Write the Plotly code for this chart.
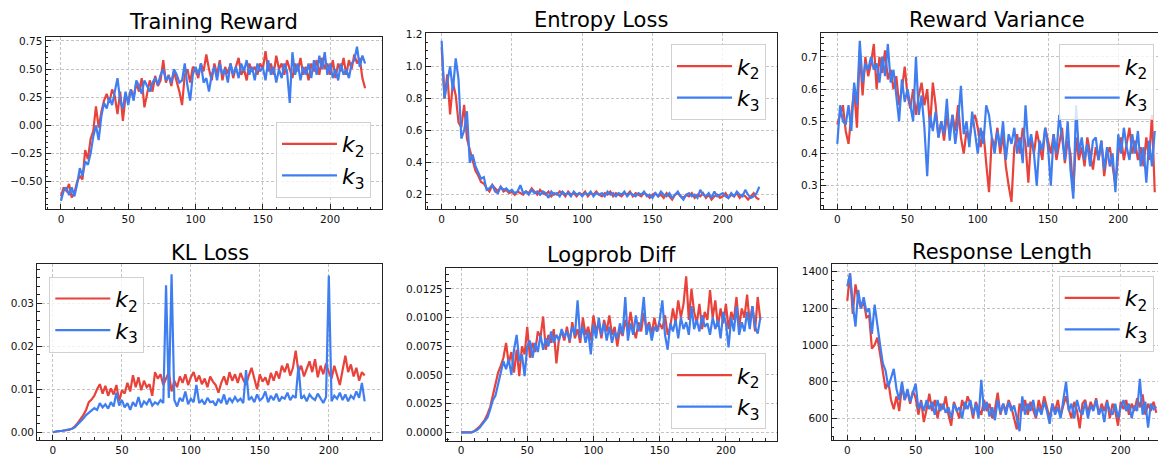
import plotly.graph_objects as go
from plotly.subplots import make_subplots

# ---------------- data (sampled every 2 steps) ----------------
steps = list(range(0, 228, 2))

reward_k2 = [-0.63,-0.55,-0.58,-0.52,-0.64,-0.60,-0.50,-0.45,-0.48,-0.22,-0.30,-0.12,-0.05,0.17,-0.02,0.12,0.22,0.28,0.20,0.32,
             0.26,0.10,0.30,0.04,0.26,0.22,0.32,0.25,0.38,0.30,0.42,0.16,0.28,0.40,0.30,0.44,0.35,0.40,0.58,0.38,
             0.45,0.35,0.48,0.40,0.30,0.18,0.45,0.50,0.38,0.52,0.50,0.42,0.55,0.48,0.63,0.50,0.40,0.55,0.45,0.58,
             0.40,0.52,0.46,0.55,0.42,0.52,0.60,0.45,0.50,0.40,0.55,0.48,0.52,0.45,0.55,0.50,0.66,0.48,0.55,0.45,
             0.62,0.50,0.55,0.45,0.58,0.50,0.42,0.55,0.48,0.60,0.45,0.52,0.40,0.55,0.48,0.58,0.45,0.60,0.50,0.55,
             0.45,0.58,0.42,0.55,0.48,0.60,0.45,0.58,0.50,0.63,0.55,0.60,0.42,0.33]
reward_k3 = [-0.67,-0.58,-0.55,-0.62,-0.55,-0.63,-0.52,-0.38,-0.45,-0.32,-0.35,-0.25,-0.10,0.00,-0.13,0.08,0.20,0.15,0.25,0.18,
             0.30,0.42,0.22,0.15,0.30,0.18,0.32,0.22,0.40,0.35,0.28,0.40,0.35,0.30,0.38,0.42,0.36,0.45,0.50,0.40,
             0.44,0.38,0.50,0.45,0.38,0.40,0.55,0.35,0.22,0.45,0.52,0.45,0.55,0.38,0.42,0.30,0.45,0.52,0.40,0.55,
             0.45,0.50,0.38,0.55,0.45,0.52,0.42,0.55,0.48,0.58,0.45,0.52,0.40,0.55,0.48,0.52,0.40,0.58,0.45,0.52,
             0.38,0.50,0.42,0.55,0.48,0.20,0.65,0.45,0.55,0.40,0.52,0.45,0.55,0.42,0.58,0.45,0.62,0.50,0.65,0.45,
             0.55,0.42,0.50,0.40,0.55,0.45,0.50,0.42,0.55,0.58,0.70,0.52,0.62,0.55]

entropy_k2 = [1.12,0.80,0.95,0.70,0.90,0.82,0.65,0.62,0.76,0.55,0.48,0.42,0.35,0.32,0.28,0.27,0.24,0.22,0.26,0.24,
              0.22,0.25,0.22,0.23,0.21,0.22,0.20,0.22,0.21,0.20,0.22,0.21,0.24,0.22,0.20,0.23,0.21,0.20,0.22,0.19,
              0.21,0.20,0.22,0.21,0.19,0.22,0.20,0.21,0.19,0.21,0.20,0.22,0.19,0.21,0.20,0.22,0.20,0.19,0.21,0.20,
              0.22,0.19,0.21,0.20,0.19,0.21,0.20,0.22,0.19,0.21,0.20,0.19,0.21,0.20,0.18,0.20,0.21,0.19,0.20,0.18,
              0.21,0.19,0.17,0.20,0.21,0.19,0.18,0.20,0.19,0.21,0.18,0.20,0.19,0.21,0.18,0.20,0.17,0.19,0.20,0.18,
              0.19,0.21,0.18,0.20,0.19,0.21,0.18,0.20,0.19,0.17,0.19,0.21,0.18,0.17]
entropy_k3 = [1.16,0.80,0.90,1.00,0.85,1.05,0.92,0.55,0.60,0.72,0.40,0.45,0.38,0.34,0.30,0.31,0.23,0.24,0.26,0.22,
              0.21,0.25,0.23,0.24,0.22,0.23,0.21,0.22,0.26,0.21,0.22,0.20,0.23,0.21,0.22,0.20,0.22,0.21,0.18,0.22,
              0.20,0.21,0.19,0.22,0.20,0.21,0.19,0.22,0.20,0.21,0.19,0.21,0.20,0.22,0.19,0.21,0.20,0.21,0.19,0.22,
              0.20,0.21,0.19,0.21,0.20,0.22,0.19,0.21,0.20,0.19,0.21,0.20,0.22,0.19,0.20,0.18,0.21,0.19,0.22,0.20,
              0.19,0.21,0.18,0.20,0.22,0.19,0.17,0.20,0.21,0.19,0.20,0.18,0.23,0.20,0.19,0.21,0.18,0.22,0.19,0.20,
              0.21,0.19,0.18,0.21,0.19,0.22,0.20,0.19,0.23,0.20,0.18,0.19,0.21,0.25]

variance_k2 = [0.49,0.52,0.55,0.47,0.43,0.52,0.60,0.48,0.72,0.58,0.70,0.64,0.68,0.74,0.60,0.70,0.65,0.72,0.63,0.66,
               0.60,0.64,0.55,0.60,0.67,0.58,0.54,0.60,0.52,0.58,0.62,0.55,0.60,0.48,0.62,0.55,0.45,0.50,0.44,0.52,
               0.46,0.52,0.47,0.55,0.45,0.40,0.47,0.44,0.50,0.52,0.48,0.42,0.47,0.37,0.28,0.45,0.42,0.48,0.40,0.46,
               0.36,0.30,0.25,0.42,0.46,0.40,0.48,0.43,0.31,0.45,0.40,0.47,0.42,0.38,0.48,0.44,0.40,0.46,0.38,0.43,
               0.48,0.37,0.44,0.40,0.28,0.45,0.38,0.42,0.36,0.45,0.40,0.35,0.42,0.38,0.44,0.33,0.40,0.42,0.36,0.30,
               0.40,0.45,0.38,0.43,0.48,0.40,0.44,0.38,0.42,0.36,0.45,0.38,0.52,0.28]
variance_k3 = [0.43,0.55,0.50,0.49,0.55,0.47,0.62,0.55,0.75,0.62,0.68,0.66,0.70,0.66,0.68,0.62,0.70,0.64,0.74,0.62,
               0.66,0.58,0.50,0.63,0.56,0.60,0.55,0.50,0.70,0.52,0.58,0.48,0.33,0.52,0.47,0.53,0.45,0.50,0.46,0.57,
               0.44,0.52,0.43,0.50,0.61,0.46,0.50,0.42,0.53,0.46,0.40,0.48,0.43,0.55,0.52,0.45,0.40,0.47,0.42,0.50,
               0.38,0.46,0.43,0.48,0.40,0.45,0.37,0.55,0.42,0.46,0.40,0.30,0.44,0.41,0.48,0.42,0.30,0.46,0.40,0.52,
               0.45,0.38,0.50,0.35,0.26,0.55,0.40,0.45,0.38,0.43,0.36,0.44,0.45,0.38,0.44,0.35,0.42,0.36,0.40,0.28,
               0.46,0.40,0.48,0.42,0.38,0.46,0.40,0.47,0.36,0.42,0.31,0.44,0.36,0.47]

kl_k2 = [0.0000,0.0002,0.0003,0.0003,0.0004,0.0005,0.0006,0.0009,0.0014,0.0022,0.0030,0.0040,0.0052,0.0070,0.0076,0.0085,0.0100,0.0112,0.0090,0.0108,
         0.0085,0.0102,0.0088,0.0110,0.0072,0.0098,0.0090,0.0115,0.0095,0.0133,0.0105,0.0128,0.0098,0.0120,0.0105,0.0112,0.0085,0.0140,0.0125,0.0135,
         0.0110,0.0125,0.0140,0.0095,0.0120,0.0105,0.0130,0.0115,0.0135,0.0110,0.0128,0.0140,0.0118,0.0132,0.0112,0.0125,0.0105,0.0130,0.0118,0.0110,
         0.0092,0.0115,0.0130,0.0110,0.0140,0.0120,0.0135,0.0115,0.0138,0.0122,0.0110,0.0132,0.0150,0.0125,0.0100,0.0135,0.0118,0.0128,0.0110,0.0138,
         0.0120,0.0142,0.0125,0.0155,0.0140,0.0160,0.0132,0.0150,0.0190,0.0140,0.0155,0.0130,0.0148,0.0165,0.0140,0.0170,0.0128,0.0155,0.0135,0.0160,
         0.0140,0.0125,0.0155,0.0135,0.0110,0.0145,0.0178,0.0140,0.0158,0.0130,0.0150,0.0120,0.0140,0.0132]
kl_k3 = [0.0000,0.0002,0.0003,0.0003,0.0004,0.0005,0.0006,0.0008,0.0012,0.0018,0.0026,0.0032,0.0040,0.0045,0.0050,0.0056,0.0052,0.0068,0.0058,0.0065,
         0.0055,0.0070,0.0060,0.0092,0.0062,0.0075,0.0058,0.0068,0.0052,0.0070,0.0060,0.0082,0.0058,0.0072,0.0065,0.0078,0.0062,0.0070,0.0065,0.0075,
         0.0068,0.0342,0.0080,0.0368,0.0075,0.0060,0.0080,0.0072,0.0095,0.0065,0.0078,0.0070,0.0110,0.0068,0.0075,0.0065,0.0080,0.0070,0.0072,0.0062,
         0.0078,0.0068,0.0088,0.0065,0.0080,0.0070,0.0082,0.0072,0.0078,0.0068,0.0145,0.0075,0.0082,0.0070,0.0088,0.0074,0.0080,0.0095,0.0070,0.0085,
         0.0075,0.0090,0.0072,0.0082,0.0078,0.0092,0.0075,0.0085,0.0080,0.0155,0.0078,0.0085,0.0072,0.0088,0.0080,0.0075,0.0090,0.0078,0.0068,0.0082,
         0.0365,0.0072,0.0085,0.0078,0.0092,0.0075,0.0088,0.0072,0.0085,0.0078,0.0095,0.0080,0.0115,0.0072]

logprob_k2 = [0.0000,0.0000,0.0000,0.0000,0.0000,0.0001,0.0003,0.0005,0.0008,0.0011,0.0016,0.0022,0.0032,0.0042,0.0052,0.0058,0.0065,0.0078,0.0060,0.0070,
              0.0052,0.0072,0.0049,0.0075,0.0068,0.0092,0.0065,0.0078,0.0070,0.0088,0.0083,0.0101,0.0072,0.0085,0.0078,0.0090,0.0060,0.0082,0.0088,0.0080,
              0.0092,0.0078,0.0096,0.0082,0.0090,0.0078,0.0100,0.0085,0.0092,0.0080,0.0102,0.0088,0.0095,0.0082,0.0098,0.0088,0.0102,0.0085,0.0092,0.0075,
              0.0090,0.0084,0.0098,0.0088,0.0105,0.0090,0.0082,0.0096,0.0088,0.0104,0.0090,0.0096,0.0086,0.0100,0.0088,0.0095,0.0090,0.0102,0.0085,0.0092,
              0.0108,0.0095,0.0115,0.0100,0.0112,0.0136,0.0098,0.0125,0.0105,0.0095,0.0112,0.0090,0.0105,0.0098,0.0124,0.0100,0.0115,0.0092,0.0108,0.0095,
              0.0112,0.0090,0.0105,0.0098,0.0118,0.0092,0.0108,0.0100,0.0120,0.0095,0.0110,0.0088,0.0118,0.0098]
logprob_k3 = [0.0000,0.0000,0.0000,0.0000,0.0000,0.0001,0.0002,0.0004,0.0007,0.0009,0.0013,0.0020,0.0028,0.0032,0.0042,0.0050,0.0062,0.0055,0.0064,0.0050,
              0.0072,0.0085,0.0062,0.0068,0.0049,0.0075,0.0080,0.0065,0.0078,0.0070,0.0085,0.0072,0.0082,0.0075,0.0088,0.0078,0.0085,0.0080,0.0090,0.0083,
              0.0088,0.0080,0.0092,0.0085,0.0115,0.0082,0.0092,0.0078,0.0088,0.0068,0.0094,0.0082,0.0100,0.0085,0.0095,0.0080,0.0092,0.0078,0.0088,0.0082,
              0.0095,0.0085,0.0118,0.0080,0.0095,0.0085,0.0102,0.0088,0.0096,0.0118,0.0085,0.0094,0.0080,0.0092,0.0088,0.0098,0.0115,0.0085,0.0072,0.0095,
              0.0088,0.0098,0.0082,0.0100,0.0090,0.0096,0.0085,0.0110,0.0090,0.0098,0.0088,0.0102,0.0092,0.0095,0.0085,0.0100,0.0090,0.0098,0.0082,0.0105,
              0.0095,0.0074,0.0100,0.0088,0.0110,0.0085,0.0096,0.0088,0.0105,0.0090,0.0110,0.0092,0.0086,0.0100]

length_k2 = [1240,1390,1170,1330,1250,1200,1240,1150,1160,980,1000,1040,950,850,760,800,700,650,720,640,
             780,700,745,680,750,710,620,700,580,650,735,640,700,600,680,650,720,620,560,690,
             640,600,700,650,720,680,600,690,650,620,700,640,680,600,650,740,620,680,640,700,
             660,600,540,680,640,700,620,690,650,600,700,640,720,660,600,680,640,700,610,670,
             720,650,600,690,640,545,680,700,630,690,650,710,620,680,640,700,600,680,640,560,
             690,650,700,620,680,640,710,660,730,620,680,640,690,630]
length_k3 = [1320,1390,1220,1100,1300,1200,1260,1180,1200,1060,1220,1100,1000,900,860,770,820,870,760,700,
             800,700,760,690,740,790,650,690,640,700,650,690,620,700,640,680,630,660,600,680,
             640,660,600,690,650,700,620,680,600,810,640,690,610,660,590,700,630,680,620,690,
             640,670,600,530,720,620,680,640,700,610,660,620,690,640,570,680,620,660,600,690,
             800,640,680,600,700,640,620,690,600,670,640,700,620,660,580,690,640,620,680,600,
             660,700,640,680,600,670,640,815,620,690,550,680,650,665]

titles = ["Training Reward", "Entropy Loss", "Reward Variance", "KL Loss", "Logprob Diff", "Response Length"]
series_names = ["<i>k</i><sub>2</sub>", "<i>k</i><sub>3</sub>"]
panels = [
    (reward_k2, reward_k3),
    (entropy_k2, entropy_k3),
    (variance_k2, variance_k3),
    (kl_k2, kl_k3),
    (logprob_k2, logprob_k3),
    (length_k2, length_k3),
]

# ---------------- styling / layout ----------------
VIEW_W, VIEW_H = 1166, 455
OFF = 8  # default page body margin of the browser
W, H = VIEW_W - OFF, VIEW_H - OFF
RED = "#E8423A"
BLUE = "#3F7EF0"
FONT = "DejaVu Sans"


def px_x(p):
    return (p - OFF) / W


def px_y(p):
    return 1 - (p - OFF) / H


# panel boxes in screen pixels: (left, right, top, bottom)
boxes = [
    (45.7, 381.7, 36.7, 209.3),
    (425.7, 776.7, 33.3, 209.0),
    (821.0, 1166.0, 33.0, 209.0),
    (37.3, 381.7, 264.3, 440.0),
    (446.0, 776.7, 268.3, 440.7),
    (831.7, 1166.0, 264.3, 440.0),
]
xranges = [[-11.35, 238.35], [-11.35, 238.35], [-11.6, 234.0],
           [-11.35, 238.35], [-11.35, 238.35], [-11.4, 233.1]]
yranges = [[-0.745, 0.788], [0.111, 1.206], [0.228, 0.774],
           [-0.0018, 0.0391], [-0.00073, 0.0143], [482, 1440]]
ydticks = [0.25, 0.2, 0.1, 0.01, 0.0025, 200]
yminor = [0.05, 0.05, 0.02, 0.002, 0.000625, 50]
yfmt = [".2f", ".1f", ".1f", ".2f", ".4f", "d"]
title_centers = [(213.7, 22), (601.2, 20), (996.5, 20), (209.5, 253), (611.3, 255), (1002.0, 252)]
# legend anchors: (x_px, y_px, xanchor, yanchor)
legend_pos = [
    (371, 198, "right", "bottom"),
    (766, 44.3, "right", "top"),
    (1058.7, 44.3, "left", "top"),
    (49.3, 276.7, "left", "top"),
    (766, 429.3, "right", "bottom"),
    (1058.7, 276.0, "left", "top"),
]

fig = make_subplots(rows=2, cols=3)

for i, (k2, k3) in enumerate(panels):
    r, c = i // 3 + 1, i % 3 + 1
    leg = "legend" if i == 0 else f"legend{i+1}"
    fig.add_trace(go.Scatter(x=steps, y=k2, mode="lines", name=series_names[0],
                             line=dict(color=RED, width=2.2), legend=leg), row=r, col=c)
    fig.add_trace(go.Scatter(x=steps, y=k3, mode="lines", name=series_names[1],
                             line=dict(color=BLUE, width=2.2), legend=leg), row=r, col=c)

layout_updates = {}
annotations = []
for i in range(6):
    l, rgt, t, b = boxes[i]
    xa = "xaxis" if i == 0 else f"xaxis{i+1}"
    ya = "yaxis" if i == 0 else f"yaxis{i+1}"
    common = dict(showline=True, linecolor="#222222", linewidth=1.3, mirror=True, automargin=False,
                  ticks="inside", ticklen=5, tickwidth=1, tickcolor="#222222",
                  showgrid=True, gridcolor="#c4c4c4", griddash="3px,2px", gridwidth=0.8,
                  zeroline=False, tickfont=dict(family=FONT, size=10.5, color="#111111"))
    layout_updates[xa] = dict(common, domain=[px_x(l), min(px_x(rgt), 1.0)], range=xranges[i],
                              tick0=0, dtick=50,
                              minor=dict(ticks="inside", ticklen=2.5, dtick=10, tickcolor="#222222", showgrid=False))
    layout_updates[ya] = dict(common, domain=[px_y(b), px_y(t)], range=yranges[i],
                              tick0=0, dtick=ydticks[i], tickformat=yfmt[i],
                              minor=dict(ticks="inside", ticklen=2.5, dtick=yminor[i], tickcolor="#222222", showgrid=False))
    tx, ty = title_centers[i]
    annotations.append(dict(text=titles[i], x=px_x(tx), y=px_y(ty), xref="paper", yref="paper",
                            xanchor="center", yanchor="middle", showarrow=False,
                            font=dict(family=FONT, size=21, color="#000000")))
    lx, ly, xanc, yanc = legend_pos[i]
    lg = "legend" if i == 0 else f"legend{i+1}"
    layout_updates[lg] = dict(x=px_x(lx), y=px_y(ly), xanchor=xanc, yanchor=yanc,
                              xref="paper", yref="paper",
                              bgcolor="rgba(255,255,255,0.8)", bordercolor="#d0d0d0", borderwidth=1,
                              font=dict(family=FONT, size=22, color="#000000"),
                              itemwidth=55, tracegroupgap=0)

fig.update_layout(**layout_updates)
fig.update_layout(width=W, height=H, margin=dict(l=0, r=0, t=0, b=0, autoexpand=False),
                  paper_bgcolor="white", plot_bgcolor="white",
                  annotations=annotations, showlegend=True)

fig.write_html("out.html")
